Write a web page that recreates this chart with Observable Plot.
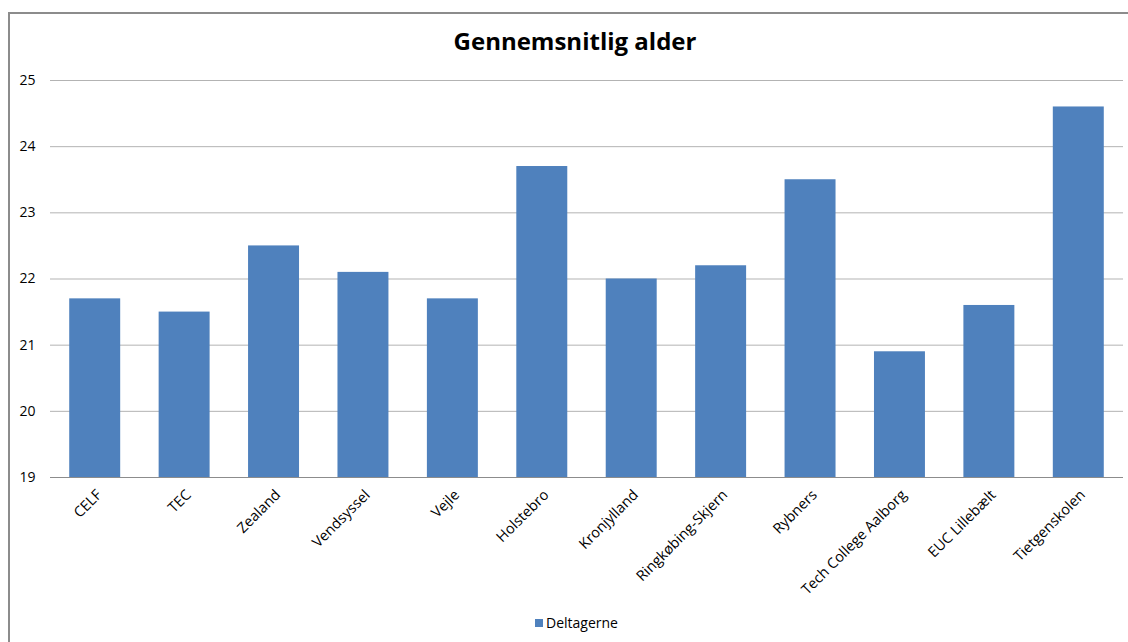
<!DOCTYPE html>
<html>
<head>
<meta charset="utf-8">
<script src="https://cdn.jsdelivr.net/npm/d3@7"></script>
<script src="https://cdn.jsdelivr.net/npm/@observablehq/plot@0.6"></script>
<style>
  html, body { margin: 0; padding: 0; background: #fff; overflow: hidden; width: 1128px; height: 642px; }
  #wrap { position: relative; width: 1128px; height: 642px; overflow: hidden; font-family: "Open Sans", sans-serif; }
  #frameL { position: absolute; left: 8px; top: 12px; width: 2px; height: 640px; background: #8c8c8c; }
  #frameT { position: absolute; left: 8px; top: 12px; width: 1120px; height: 2px; background: #8c8c8c; }
  #title { position: absolute; left: 0; top: 24px; width: 1150px; text-align: center; font-weight: bold; font-size: 24px; color: #000; }
  #legend { position: absolute; left: 535px; top: 613px; font-size: 14px; color: #000; display: flex; align-items: center; }
  #legend span.sw { display: inline-block; width: 8px; height: 8px; background: #4F81BD; margin-right: 3px; }
  #chart { position: absolute; left: 0; top: 0; }
</style>
</head>
<body>
<div id="wrap">
  <div id="frameL"></div>
  <div id="frameT"></div>
  <div id="chart"></div>
  <div id="title">Gennemsnitlig alder</div>
  <div id="legend"><span class="sw"></span>Deltagerne</div>
</div>
<script>
const schools = ["CELF", "TEC", "Zealand", "Vendsyssel", "Vejle", "Holstebro", "Kronjylland", "Ringkøbing-Skjern", "Rybners", "Tech College Aalborg", "EUC Lillebælt", "Tietgenskolen"];
const ages = [21.7, 21.5, 22.5, 22.1, 21.7, 23.7, 22.0, 22.2, 23.5, 20.9, 21.6, 24.6];
const yTicks = [19, 20, 21, 22, 23, 24, 25];
const seriesName = "Deltagerne";

const data = schools.map((s, i) => ({school: s, age: ages[i]}));

const chart = Plot.plot({
  width: 1128,
  height: 642,
  marginLeft: 50,
  marginRight: 5,
  marginTop: 80,
  marginBottom: 165,
  style: {fontFamily: "'Open Sans', sans-serif", fontSize: "14px", color: "#000", background: "transparent"},
  x: {domain: schools, paddingInner: 0.43, paddingOuter: 0.215, round: false, label: null},
  y: {domain: [19, 25], label: null},
  marks: [
    Plot.ruleY(yTicks.slice(1), {stroke: "#b3b3b3", strokeWidth: 1}),
    Plot.barY(data, {x: "school", y1: 19, y2: "age", fill: "#4F81BD"}),
    Plot.ruleY([19], {stroke: "#8c8c8c", strokeWidth: 1}),
    Plot.axisY({ticks: yTicks, tickSize: 0, tickPadding: 15, tickFormat: d => String(d), fontSize: 14, fill: "#000"}),
    Plot.axisX({tickSize: 0, tickRotate: -45, tickPadding: 15, dx: 4, fontSize: 14.5, fill: "#000"})
  ]
});
document.getElementById("chart").appendChild(chart);
</script>
</body>
</html>
